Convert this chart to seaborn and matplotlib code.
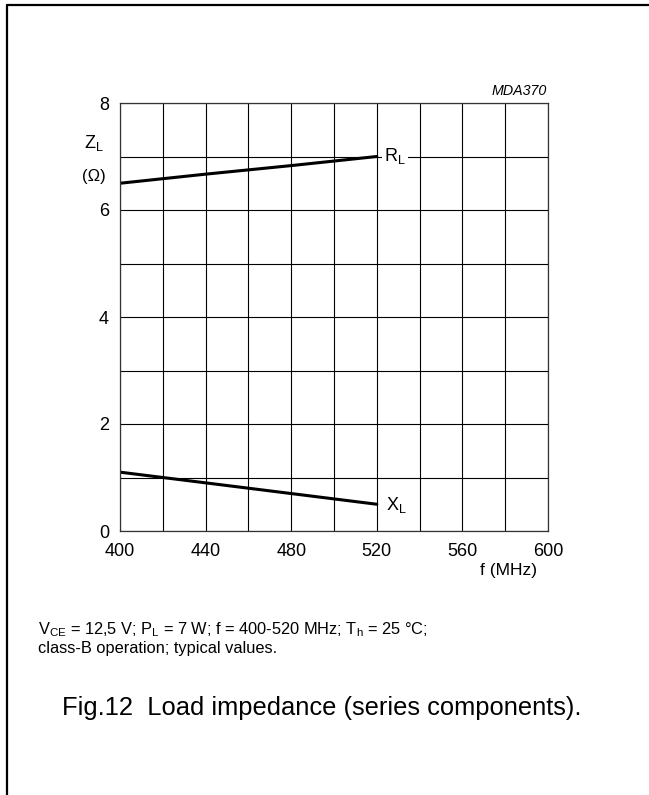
import matplotlib
matplotlib.use("Agg")
import matplotlib.pyplot as plt
from matplotlib.lines import Line2D
import seaborn as sns
import pandas as pd

# data
freq_mhz = [400, 440, 480, 520]
r_load = [6.5, 6.67, 6.83, 7.0]
x_load = [1.1, 0.9, 0.7, 0.5]
x_ticks = [400, 440, 480, 520, 560, 600]
y_ticks = [0, 2, 4, 6, 8]

sns.set_theme(style="white")
plt.rcParams['font.family'] = ['Liberation Sans', 'DejaVu Sans']
plt.rcParams['mathtext.fontset'] = 'custom'
plt.rcParams['mathtext.rm'] = 'Liberation Sans'
plt.rcParams['mathtext.it'] = 'Liberation Sans:italic'
plt.rcParams['mathtext.default'] = 'regular'
plt.rcParams['text.color'] = 'black'

df = pd.DataFrame({
    'f': freq_mhz * 2,
    'Z': r_load + x_load,
    'comp': ['R'] * len(freq_mhz) + ['X'] * len(freq_mhz),
})

W, H = 649, 795
fig = plt.figure(figsize=(W / 100, H / 100), dpi=100)
ax = fig.add_axes([120 / W, 1 - 531 / H, (548 - 120) / W, (531 - 103) / H])

sns.lineplot(data=df, x='f', y='Z', units='comp', estimator=None,
             color='black', linewidth=2.2, ax=ax, legend=False)

ax.set_xlim(400, 600)
ax.set_ylim(0, 8)
ax.set_xticks(x_ticks)
ax.set_xticks(range(400, 601, 20), minor=True)
ax.set_yticks(y_ticks)
ax.set_yticks(range(0, 9), minor=True)
ax.grid(True, which='both', color='black', linewidth=0.8)
ax.tick_params(which='both', length=0)
ax.tick_params(axis='both', labelsize=13, colors='black')
ax.tick_params(axis='x', pad=9)
ax.tick_params(axis='y', pad=8)
for s in ax.spines.values():
    s.set_color('#333333')
    s.set_linewidth(0.9)
ax.set_xlabel('')
ax.set_ylabel('')

# labels in the plot
ax.text(523.5, 7.0, 'R$_{L}$', fontsize=13, ha='left', va='center',
        bbox=dict(facecolor='white', edgecolor='none', pad=1.5))
ax.text(524.5, 0.48, 'X$_{L}$', fontsize=13, ha='left', va='center')

fig.text(547 / W, 1 - 91 / H, 'MDA370', fontsize=10.3, style='italic',
         ha='right', va='center')
fig.text(94 / W, 1 - 143 / H, 'Z$_{L}$', fontsize=13, ha='center', va='center')
fig.text(94 / W, 1 - 176 / H, '(Ω)', fontsize=12, ha='center', va='center')
fig.text(537 / W, 1 - 571 / H, 'f (MHz)', fontsize=12.5, ha='right', va='center')

fig.text(38 / W, 1 - 630 / H,
         'V$_{CE}$ = 12,5 V; P$_{L}$ = 7 W; f = 400-520 MHz; T$_{h}$ = 25 °C;',
         fontsize=11.8, ha='left', va='center')
fig.text(38 / W, 1 - 648 / H, 'class-B operation; typical values.',
         fontsize=11.8, ha='left', va='center')
fig.text(62 / W, 1 - 708 / H, 'Fig.12  Load impedance (series components).',
         fontsize=18.4, ha='left', va='center')

# page frame (top and left edges)
fig.add_artist(Line2D([7 / W, 1], [1 - 5 / H, 1 - 5 / H], color='black',
                      linewidth=1.6, transform=fig.transFigure))
fig.add_artist(Line2D([7 / W, 7 / W], [0, 1 - 5 / H], color='black',
                      linewidth=1.6, transform=fig.transFigure))

fig.savefig('out.png', dpi=100, facecolor='white')
